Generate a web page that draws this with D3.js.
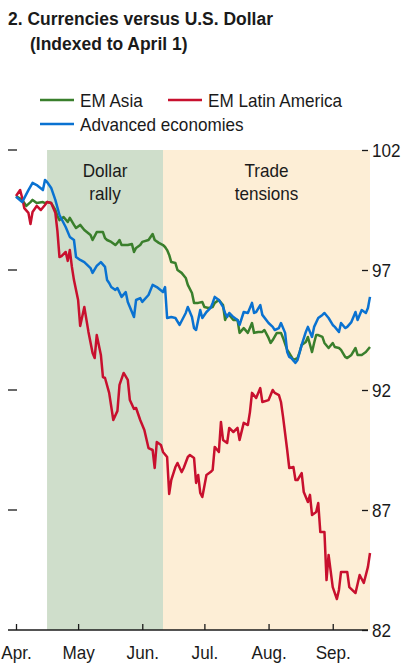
<!DOCTYPE html>
<html>
<head>
<meta charset="utf-8">
<script src="https://cdn.jsdelivr.net/npm/d3@7"></script>
<style>
  body { margin: 0; background: #fff; }
  .chart text { font-family: "Liberation Sans", Arial, sans-serif; fill: #1a1a1a; }
  .title { font-weight: bold; font-size: 18px; }
  .legend text, .axis text, .note { font-size: 19px; }
  .line { fill: none; stroke-width: 2.5; stroke-linejoin: round; }
</style>
</head>
<body>
<div class="chart"></div>
<script>
// day offsets from April 1 and index values
const emAsia = [
  [0, 100.08], [3, 99.92], [5, 99.67], [7, 99.83], [8, 99.92], [10, 99.79], [13, 99.83], [14, 99.79],
  [15, 99.83], [17, 99.79], [19, 99.5], [20, 99.25], [21, 99.08], [23, 99.21], [25, 99.0], [26, 99.17],
  [28, 98.88], [29, 98.75], [31, 98.88], [33, 98.67], [36, 98.46], [37, 98.25], [39, 98.58], [41, 98.58],
  [42, 98.58], [43, 98.33], [44, 98.25], [46, 98.17], [48, 98.04], [49, 98.13], [50, 98.25], [51, 98.04],
  [54, 98.04], [56, 98.08], [57, 97.75], [58, 97.92], [60, 98.04], [61, 98.17], [64, 98.25], [66, 98.5],
  [67, 98.25], [69, 98.13], [71, 98.04], [72, 97.96], [73, 97.83], [74, 97.63], [75, 97.33], [77, 97.29],
  [78, 97.0], [80, 96.88], [82, 96.67], [83, 96.38], [85, 96.04], [86, 95.63], [88, 95.63], [90, 95.67],
  [91, 95.46], [93, 95.42], [95, 95.46], [96, 95.63], [98, 95.75], [100, 95.54], [101, 94.92], [102, 95.13],
  [103, 95.13], [105, 94.92], [107, 94.92], [108, 94.38], [110, 94.58], [112, 94.38], [114, 94.79], [115, 94.38],
  [117, 94.42], [119, 94.42], [120, 94.5], [122, 94.17], [123, 93.96], [124, 94.08], [126, 94.38], [128, 94.38],
  [129, 94.17], [131, 93.67], [132, 93.54], [134, 93.25], [136, 93.33], [137, 93.58], [138, 93.88], [140, 94.0],
  [141, 94.21], [143, 93.58], [144, 93.96], [145, 94.29], [146, 94.29], [148, 94.21], [149, 93.96], [151, 93.75],
  [153, 93.96], [154, 93.79], [156, 93.75], [157, 93.67], [159, 93.38], [160, 93.33], [162, 93.46], [164, 93.75],
  [165, 93.46], [167, 93.46], [169, 93.58], [171, 93.79]
]

const emLatAm = [
  [0, 100.08], [2, 100.33], [3, 100.0], [4, 99.58], [6, 99.38], [7, 98.92], [8, 99.42], [10, 99.67],
  [12, 99.5], [14, 99.71], [15, 99.83], [17, 99.79], [19, 99.38], [20, 98.63], [21, 97.54], [22, 97.58],
  [24, 97.75], [25, 97.38], [26, 97.83], [27, 97.13], [28, 96.58], [30, 95.75], [31, 94.67], [33, 95.46],
  [35, 94.42], [37, 93.54], [38, 93.33], [39, 94.29], [41, 93.46], [42, 92.54], [43, 92.5], [45, 91.88],
  [47, 90.75], [49, 91.13], [50, 92.21], [52, 92.71], [54, 92.42], [55, 91.58], [57, 91.21], [58, 91.25],
  [60, 90.75], [62, 90.33], [64, 89.58], [66, 89.5], [67, 88.75], [68, 89.83], [70, 89.71], [71, 89.42],
  [73, 89.21], [74, 87.67], [75, 88.25], [77, 88.79], [78, 88.96], [80, 88.58], [81, 88.75], [83, 89.21],
  [84, 89.29], [86, 89.17], [87, 88.13], [88, 88.46], [89, 87.71], [90, 87.54], [92, 88.46], [94, 88.58],
  [95, 88.67], [96, 89.63], [98, 89.42], [99, 90.67], [100, 89.92], [102, 89.79], [103, 90.42], [105, 90.25],
  [107, 90.42], [108, 89.92], [110, 90.63], [112, 90.54], [113, 91.08], [114, 91.88], [116, 91.67], [118, 92.08],
  [119, 91.5], [122, 91.58], [124, 92.0], [125, 91.88], [127, 91.79], [128, 91.5], [129, 90.88], [131, 89.5],
  [132, 88.75], [134, 88.79], [135, 88.25], [136, 88.25], [138, 88.54], [139, 87.75], [141, 87.33], [142, 87.63],
  [143, 86.79], [145, 86.92], [146, 87.29], [147, 86.08], [149, 86.08], [150, 84.08], [151, 85.13], [153, 83.79],
  [155, 83.29], [156, 83.67], [157, 84.42], [160, 84.42], [161, 83.79], [164, 83.54], [166, 84.29], [168, 83.96],
  [170, 84.63], [171, 85.21]
]

const advanced = [
  [0, 100.05], [3, 99.83], [6, 100.33], [8, 100.63], [10, 100.54], [13, 100.33], [14, 100.75], [15, 100.67],
  [17, 100.42], [19, 99.92], [21, 99.29], [24, 98.79], [26, 98.38], [28, 98.25], [29, 97.54], [31, 97.42],
  [33, 97.33], [36, 97.08], [37, 96.88], [39, 97.17], [41, 97.33], [43, 97.13], [44, 96.58], [45, 96.46],
  [46, 96.29], [48, 96.17], [49, 96.25], [51, 95.88], [53, 96.08], [54, 95.67], [55, 95.46], [57, 95.04],
  [58, 95.75], [60, 95.83], [61, 95.67], [64, 95.96], [66, 96.38], [68, 96.29], [71, 96.08], [72, 96.29],
  [73, 95.0], [75, 95.04], [77, 95.0], [79, 94.71], [82, 95.21], [83, 95.46], [85, 95.04], [86, 94.58],
  [87, 94.5], [89, 95.33], [90, 95.0], [92, 95.25], [94, 95.42], [95, 95.63], [96, 95.88], [98, 95.75],
  [100, 95.46], [101, 95.21], [102, 95.04], [103, 95.21], [105, 95.04], [107, 94.92], [108, 94.71], [110, 95.25],
  [112, 95.21], [114, 95.63], [115, 95.21], [116, 95.25], [118, 95.54], [119, 95.13], [122, 94.79], [124, 94.63],
  [125, 94.5], [127, 94.58], [128, 94.79], [130, 94.38], [131, 93.58], [132, 93.38], [133, 93.33], [135, 93.13],
  [136, 93.25], [138, 93.88], [140, 94.42], [141, 94.63], [143, 94.21], [144, 94.63], [146, 95.0], [148, 95.13],
  [149, 95.21], [151, 95.0], [153, 94.71], [154, 94.63], [156, 94.42], [157, 94.79], [159, 94.58], [160, 94.63],
  [162, 94.83], [164, 95.25], [165, 94.92], [167, 95.33], [169, 95.21], [170, 95.42], [171, 95.88]
]

const yTicks = [82, 87, 92, 97, 102]
const monthLabels = ['Apr.', 'May', 'Jun.', 'Jul.', 'Aug.', 'Sep.']
const periods = [
  { name: ['Dollar', 'rally'], start: '2019-04-16', end: '2019-06-11', color: '#cfdecb' },
  { name: ['Trade', 'tensions'], start: '2019-06-11', end: '2019-09-19', color: '#fdeed6' }
]
const series = [
  { name: 'EM Asia', data: emAsia, color: '#3a7f2c' },
  { name: 'EM Latin America', data: emLatAm, color: '#c8102e' },
  { name: 'Advanced economies', data: advanced, color: '#0a72d1' }
]

const width = 409
const height = 663
const parseDate = d3.timeParse('%Y-%m-%d')
const start = parseDate('2019-04-01')

// squeeze text horizontally to mimic the condensed face
const condense = function(sel, k) {
  sel.each(function() {
    const w = this.getComputedTextLength()
    d3.select(this)
      .attr('textLength', w * k)
      .attr('lengthAdjust', 'spacingAndGlyphs')
  })
}

const svg = d3.select('.chart')
  .append('svg')
  .attr('width', width)
  .attr('height', height)

const x = d3.scaleTime()
  .domain([start, parseDate('2019-09-19')])
  .range([16, 370])

const y = d3.scaleLinear()
  .domain([82, 102])
  .range([630, 150])

// title
svg.append('text').attr('class', 'title').attr('x', 8).attr('y', 25)
  .text('2. Currencies versus U.S. Dollar')
svg.append('text').attr('class', 'title').attr('x', 30).attr('y', 50)
  .text('(Indexed to April 1)')

// shaded periods
svg.append('g')
  .selectAll('rect')
  .data(periods)
  .join('rect')
  .attr('x', d => x(parseDate(d.start)))
  .attr('width', d => x(parseDate(d.end)) - x(parseDate(d.start)))
  .attr('y', y(102))
  .attr('height', y(82) - y(102))
  .attr('fill', d => d.color)

periods.forEach(p => {
  const cx = (x(parseDate(p.start)) + x(parseDate(p.end))) / 2
  p.name.forEach((t, i) => {
    svg.append('text').attr('class', 'note')
      .attr('x', cx).attr('y', 177 + i * 23)
      .attr('text-anchor', 'middle')
      .text(t)
  })
})

// lines
const line = d3.line()
  .x(d => x(d3.timeDay.offset(start, d[0])))
  .y(d => y(d[1]))

svg.append('g')
  .selectAll('path')
  .data(series)
  .join('path')
  .attr('class', 'line')
  .attr('stroke', d => d.color)
  .attr('d', d => line(d.data))

// right axis
const yAxis = d3.axisRight(y)
  .tickValues(yTicks)
  .tickSize(6)
  .tickPadding(4)

svg.append('g')
  .attr('class', 'axis')
  .attr('transform', 'translate(362,0)')
  .call(yAxis)
  .call(g => g.select('.domain').remove())
  .call(g => g.selectAll('line').attr('stroke', '#1a1a1a').attr('stroke-width', 1.3))

// left dashes
svg.append('g')
  .selectAll('line')
  .data(yTicks.filter(d => d > 82))
  .join('line')
  .attr('x1', 8).attr('x2', 17)
  .attr('y1', d => y(d)).attr('y2', d => y(d))
  .attr('stroke', '#1a1a1a').attr('stroke-width', 1.3)

// bottom axis
const months = d3.timeMonth.range(start, parseDate('2019-09-02'))
const xAxis = d3.axisBottom(x)
  .tickValues(months)
  .tickSize(-6)
  .tickPadding(12)
  .tickFormat((d, i) => monthLabels[i])

const gx = svg.append('g')
  .attr('class', 'axis')
  .attr('transform', `translate(0,${y(82)})`)
  .call(xAxis)
gx.select('.domain').remove()
gx.selectAll('line').attr('stroke', '#1a1a1a').attr('stroke-width', 1.3)
gx.selectAll('text').attr('dy', '0.9em')
gx.append('line')
  .attr('x1', 8).attr('x2', 368)
  .attr('stroke', '#1a1a1a').attr('stroke-width', 1.3)

// legend
const legendPos = [[40, 100], [168, 100], [40, 124]]
const legend = svg.append('g').attr('class', 'legend')
series.forEach((s, i) => {
  const [lx, ly] = legendPos[i]
  legend.append('line')
    .attr('x1', lx).attr('x2', lx + 34)
    .attr('y1', ly).attr('y2', ly)
    .attr('stroke', s.color).attr('stroke-width', 2.5)
  legend.append('text')
    .attr('x', lx + 40).attr('y', ly)
    .attr('dy', '0.35em')
    .text(s.name)
})

condense(svg.selectAll('.title'), 0.97)
condense(svg.selectAll('.legend text, .axis text, .note'), 0.9)
</script>
</body>
</html>
